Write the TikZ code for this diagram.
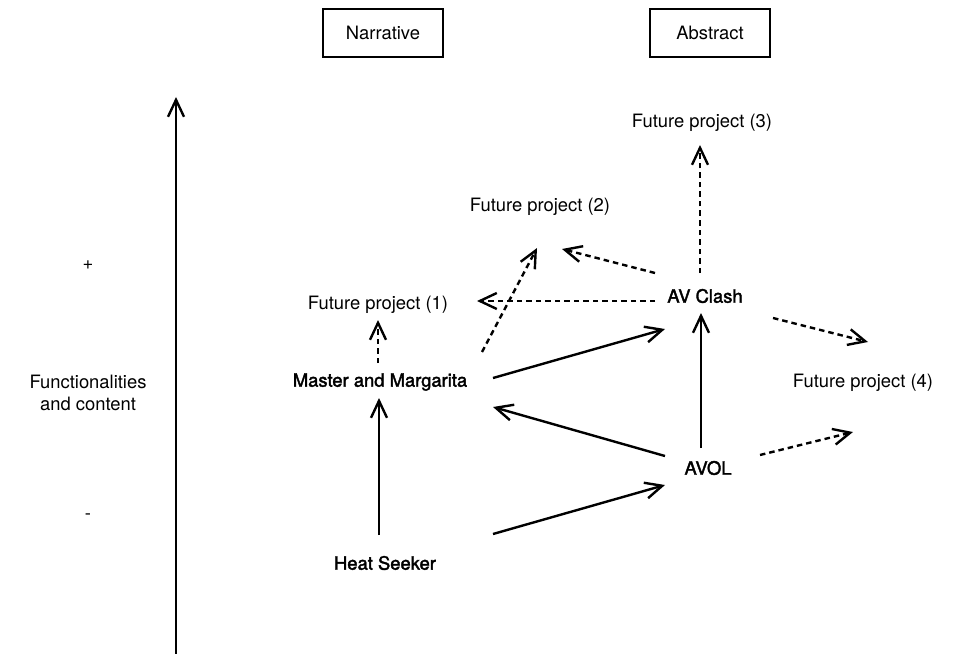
\documentclass[tikz,border=0pt]{standalone}
\usepackage{fontspec}
\setmainfont{TeX Gyre Heros}
\newfontfamily\medfont{TeX Gyre Heros}[FakeBold=2]
\usetikzlibrary{arrows.meta}

\tikzset{
  lbl/.style={inner sep=0pt, font=\fontsize{18.4bp}{22bp}\selectfont, align=center},
  item/.style={inner sep=0pt, font=\medfont\fontsize{18.4bp}{22bp}\selectfont},
  header/.style={lbl, draw, line width=2.2bp, minimum width=120bp, minimum height=48bp},
  link/.style={line width=2.4bp, -{Straight Barb[length=17bp,width=16bp,line join=miter]}},
  future/.style={link, dash pattern=on 5.5bp off 4bp},
}

\begin{document}
\begin{tikzpicture}[x=1bp, y=-1bp]
  \useasboundingbox (0,0) rectangle (964,654);

  % column headers
  \node[header] (narr) at (383,33) {Narrative};
  \node[header] (abst) at (710,33) {Abstract};

  % vertical axis
  \coordinate (axbot) at (176,654);
  \coordinate (axtop) at (176,97);
  \draw[link] (axbot) -- (axtop);
  \node[lbl] (plus)  at (88,265) {+};
  \node[lbl] (minus) at (88,517) {-};
  \node[lbl] (func)  at (88,393) {Functionalities\\and content};

  % projects
  \node[item] (hs)   at (385,563) {Heat Seeker};
  \node[item] (mm)   at (380,382) {Master and Margarita};
  \node[item] (avc)  at (705,296) {AV Clash};
  \node[item] (avol) at (708,468) {AVOL};

  % future work
  \node[lbl] (f1) at (378,305) {Future project (1)};
  \node[lbl] (f2) at (540,207) {Future project (2)};
  \node[lbl] (f3) at (702,123) {Future project (3)};
  \node[lbl] (f4) at (863,383) {Future project (4)};

  % existing lineage
  \draw[link] ([shift={(-6,-28)}]hs.center) -- ([shift={(-1,16)}]mm.center);
  \draw[link] ([shift={(113,-4)}]mm.center) -- ([shift={(-40,33)}]avc.center);
  \draw[link] ([shift={(-43,-12)}]avol.center) -- ([shift={(113,25)}]mm.center);
  \draw[link] ([shift={(108,-29)}]hs.center) -- ([shift={(-43,17)}]avol.center);
  \draw[link] ([shift={(-7,-20)}]avol.center) -- ([shift={(-4,17)}]avc.center);

  % planned lineage
  \draw[future] ([shift={(-2,-19)}]mm.center) -- ([shift={(0,15)}]f1.center);
  \draw[future] ([shift={(-50,5)}]avc.center) -- ([shift={(99,-4)}]f1.center);
  \draw[future] ([shift={(-50,-23)}]avc.center) -- ([shift={(22,42)}]f2.center);
  \draw[future] ([shift={(102,-30)}]mm.center) -- ([shift={(-3,41)}]f2.center);
  \draw[future] ([shift={(-5,-23)}]avc.center) -- ([shift={(-2,22)}]f3.center);
  \draw[future] ([shift={(68,22)}]avc.center) -- ([shift={(5,-41)}]f4.center);
  \draw[future] ([shift={(52,-13)}]avol.center) -- ([shift={(-10,49)}]f4.center);
\end{tikzpicture}
\end{document}
